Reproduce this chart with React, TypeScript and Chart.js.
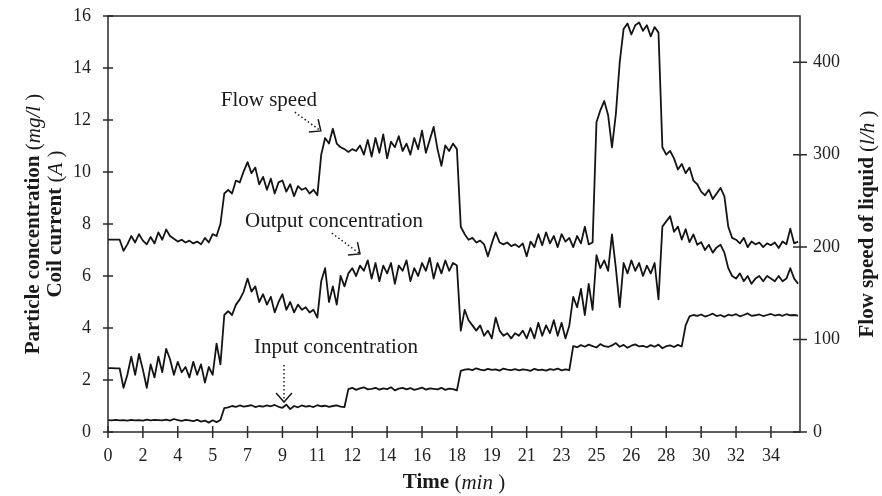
import React, { useEffect, useRef } from "react";
import { Chart, registerables } from "chart.js";

Chart.register(...registerables);

// ---------- data ----------
const SAMPLE_INTERVAL_MIN = 0.2;
const X_MAX_MIN = 35.7;
const X_TICK_STEP = 1.8;
const xTickLabels = ["0", "2", "4", "5", "7", "9", "11", "12", "14", "16", "18", "19", "21", "23", "25", "26", "28", "30", "32", "34"];
const LEFT_MAX = 16;
const LEFT_STEP = 2;
const RIGHT_MAX = 450;
const RIGHT_STEP = 100;

// Flow speed of liquid (l/h), right axis
const flowSpeedLh = [
  208, 208, 208, 208, 196, 203, 212, 205, 214, 207,
  203, 211, 204, 216, 208, 219, 212, 209, 206, 208,
  205, 207, 204, 206, 203, 210, 205, 214, 212, 225,
  258, 262, 258, 272, 270, 282, 292, 280, 286, 268,
  276, 262, 274, 258, 270, 272, 260, 268, 255, 266,
  262, 264, 258, 262, 256, 300, 318, 312, 328, 312,
  308, 306, 303, 306, 304, 310, 300, 316, 298, 318,
  302, 322, 296, 314, 308, 320, 304, 312, 300, 318,
  306, 326, 302, 316, 330, 306, 288, 310, 304, 312,
  306, 222, 214, 208, 210, 205, 207, 203, 190, 204,
  216, 205, 203, 205, 201, 203, 200, 204, 190, 206,
  200, 214, 202, 216, 204, 212, 200, 214, 206, 210,
  200, 212, 204, 222, 203, 205, 335, 348, 358, 343,
  308, 344, 400, 436, 442, 430, 440, 443, 434, 440,
  428, 438, 432, 308, 300, 304, 296, 284, 290, 280,
  286, 272, 268, 260, 256, 262, 252, 258, 264, 255,
  222, 210, 208, 204, 210, 200, 206, 203, 205, 200,
  204, 202, 205, 199, 206, 203, 220, 204, 206,
];

// Output concentration (mg/l), left axis
const outputConcentration = [
  2.46, 2.46, 2.45, 2.45, 1.7, 2.2, 2.9, 2.2, 3.0, 2.4,
  1.7, 2.6, 2.1, 2.9, 2.3, 3.2, 2.8, 2.2, 2.7, 2.3,
  2.5, 2.1, 2.7, 2.2, 2.6, 1.9, 2.5, 2.2, 3.4, 2.6,
  4.5, 4.65, 4.5, 4.9, 5.1, 5.4, 5.9, 5.4, 5.6, 5.0,
  5.3, 4.9, 5.2, 4.6, 5.0, 5.3, 4.7, 5.0, 4.6, 4.9,
  4.7, 4.8, 4.6, 4.7, 4.4, 5.8, 6.3, 5.0, 5.6, 4.9,
  6.0, 5.6, 6.1, 6.3, 6.0, 6.4, 6.2, 6.6, 5.9, 6.5,
  5.8, 6.4, 6.1, 6.5, 5.7, 6.4, 6.2, 6.6, 5.8, 6.3,
  6.0, 6.5, 6.2, 6.7, 5.9, 6.5, 6.1, 6.6, 6.2, 6.5,
  6.4, 3.9, 4.7, 4.3, 4.1, 3.9, 4.1, 3.7, 3.9, 3.6,
  4.4, 3.9, 3.7, 3.8, 3.6, 3.8, 3.7, 3.9, 3.6, 4.0,
  3.6, 4.2, 3.7, 4.1, 3.8, 4.3, 3.7, 4.2, 3.6, 4.1,
  5.2, 4.8, 5.5, 4.5, 5.7, 4.7, 6.8, 6.3, 6.6, 6.2,
  7.6, 6.3, 4.8, 6.5, 6.1, 6.6, 6.2, 6.5, 6.0, 6.4,
  6.1, 6.5, 5.1, 7.9, 8.1, 8.3, 7.7, 7.9, 7.4, 7.8,
  7.3, 7.6, 7.2, 7.3, 7.0, 7.2, 6.9, 7.1, 7.2, 6.9,
  6.3, 6.0, 5.9, 6.1, 5.8, 6.0, 5.7, 5.9, 6.0, 5.8,
  6.0, 5.9, 5.8, 6.0, 5.8, 5.9, 6.3, 5.9, 5.7,
];

// Input concentration (mg/l), left axis
const inputConcentration = [
  0.46, 0.45, 0.47, 0.45, 0.46, 0.44, 0.47, 0.45, 0.46, 0.44,
  0.48, 0.45, 0.47, 0.46, 0.45, 0.48, 0.44, 0.5, 0.46, 0.43,
  0.47, 0.45, 0.42, 0.47, 0.4, 0.44, 0.36, 0.45, 0.38, 0.46,
  0.92, 0.95, 1.0, 0.97, 1.02, 0.98, 1.0, 1.03, 0.96, 1.0,
  0.98, 1.02, 0.99, 1.04, 0.97, 0.93, 1.05, 0.88, 1.0, 0.95,
  1.02, 0.98, 1.0, 0.96, 1.03, 0.99, 1.01, 0.97, 1.0, 1.02,
  0.98, 0.96, 1.65, 1.7, 1.62, 1.68, 1.72, 1.64, 1.66, 1.7,
  1.63, 1.68, 1.65, 1.72, 1.6, 1.67, 1.7, 1.64, 1.69, 1.62,
  1.66, 1.71, 1.63, 1.68, 1.66, 1.64, 1.7, 1.62, 1.67, 1.65,
  1.6, 2.35, 2.4, 2.42, 2.38, 2.45, 2.4, 2.37, 2.43, 2.39,
  2.41, 2.36, 2.44, 2.4, 2.38, 2.42, 2.37, 2.41, 2.39, 2.35,
  2.43, 2.38, 2.4, 2.36, 2.42, 2.39, 2.44, 2.37, 2.41, 2.38,
  3.3, 3.26, 3.34, 3.28, 3.36, 3.3, 3.25, 3.38, 3.3, 3.27,
  3.33, 3.42, 3.28, 3.35, 3.24, 3.32, 3.37, 3.29, 3.31, 3.26,
  3.34, 3.28, 3.36, 3.22, 3.3, 3.33, 3.27, 3.35, 3.29, 4.1,
  4.45, 4.5, 4.47, 4.52, 4.44, 4.49, 4.55, 4.46, 4.5, 4.43,
  4.51, 4.48, 4.53, 4.45, 4.5, 4.56, 4.47, 4.49, 4.52, 4.46,
  4.5, 4.54, 4.48, 4.51, 4.47, 4.53, 4.49, 4.5, 4.48,
];

const timeMin = flowSpeedLh.map((_, i) => Math.round(i * SAMPLE_INTERVAL_MIN * 10) / 10);

// annotation texts and arrows (data coordinates: minutes, left-axis units)
const annotationLabels = [
  { text: "Flow speed", x: 8.3, y: 12.54 },
  { text: "Output concentration", x: 11.66, y: 7.88 },
  { text: "Input concentration", x: 11.76, y: 3.04 },
];
const annotationArrows = [
  { x0: 9.64, y0: 12.3, x1: 10.98, y1: 11.58 },
  { x0: 11.55, y0: 7.65, x1: 13.0, y1: 6.85 },
  { x0: 9.08, y0: 2.58, x1: 9.08, y1: 1.15 },
];

// ---------- styling ----------
const SERIF = "'Liberation Serif', 'Times New Roman', serif";
const INK = "#141414";
const AXIS = "#2a2a2a";

type Part = { t: string; f: string };
const B = `bold 21px ${SERIF}`;
const R = `21px ${SERIF}`;
const I = `italic 21px ${SERIF}`;

function drawRich(ctx: CanvasRenderingContext2D, parts: Part[], x: number, y: number, rot: number) {
  ctx.save();
  ctx.translate(x, y);
  ctx.rotate(rot);
  let total = 0;
  for (const p of parts) {
    ctx.font = p.f;
    total += ctx.measureText(p.t).width;
  }
  let cx = -total / 2;
  ctx.textAlign = "left";
  ctx.textBaseline = "middle";
  ctx.fillStyle = "#1a1a1a";
  for (const p of parts) {
    ctx.font = p.f;
    ctx.fillText(p.t, cx, 0);
    cx += ctx.measureText(p.t).width;
  }
  ctx.restore();
}

const framePlugin = {
  id: "frameTicks",
  afterDraw(chart: any) {
    const { ctx, chartArea: a, scales } = chart;
    ctx.save();
    ctx.strokeStyle = AXIS;
    ctx.lineWidth = 1.5;
    ctx.strokeRect(a.left, a.top, a.right - a.left, a.bottom - a.top);
    ctx.beginPath();
    for (const t of scales.x.ticks) {
      const px = scales.x.getPixelForValue(t.value);
      ctx.moveTo(px, a.bottom - 6);
      ctx.lineTo(px, a.bottom + 6);
    }
    for (const t of scales.y.ticks) {
      const py = scales.y.getPixelForValue(t.value);
      ctx.moveTo(a.left - 5, py);
      ctx.lineTo(a.left + 5, py);
    }
    for (const t of scales.y1.ticks) {
      const py = scales.y1.getPixelForValue(t.value);
      ctx.moveTo(a.right - 7, py);
      ctx.lineTo(a.right + 7, py);
    }
    ctx.stroke();
    ctx.restore();

    // axis titles
    const midY = (a.top + a.bottom) / 2;
    drawRich(ctx, [
      { t: "Particle concentration ", f: B },
      { t: "(", f: R },
      { t: "mg/l", f: I },
      { t: " )", f: R },
    ], 34, midY, -Math.PI / 2);
    drawRich(ctx, [
      { t: "Coil current ", f: B },
      { t: "(", f: R },
      { t: "A", f: I },
      { t: " )", f: R },
    ], 56, midY, -Math.PI / 2);
    drawRich(ctx, [
      { t: "Flow speed of liquid ", f: B },
      { t: "(", f: R },
      { t: "l/h", f: I },
      { t: " )", f: R },
    ], 868, midY, -Math.PI / 2);
    drawRich(ctx, [
      { t: "Time ", f: B },
      { t: "(", f: R },
      { t: "min", f: I },
      { t: " )", f: R },
    ], (a.left + a.right) / 2, 483, 0);
  },
};

const annotationPlugin = {
  id: "curveLabels",
  afterDatasetsDraw(chart: any) {
    const { ctx, scales } = chart;
    const xs = scales.x;
    const ys = scales.y;
    ctx.save();
    ctx.fillStyle = "#1a1a1a";
    ctx.font = `21px ${SERIF}`;
    ctx.textAlign = "center";
    ctx.textBaseline = "alphabetic";
    for (const l of annotationLabels) {
      ctx.fillText(l.text, xs.getPixelForValue(l.x), ys.getPixelForValue(l.y));
    }
    ctx.strokeStyle = "#1a1a1a";
    ctx.lineWidth = 1.5;
    for (const ar of annotationArrows) {
      const x0 = xs.getPixelForValue(ar.x0);
      const y0 = ys.getPixelForValue(ar.y0);
      const x1 = xs.getPixelForValue(ar.x1);
      const y1 = ys.getPixelForValue(ar.y1);
      ctx.setLineDash([1.5, 2.5]);
      ctx.beginPath();
      ctx.moveTo(x0, y0);
      ctx.lineTo(x1, y1);
      ctx.stroke();
      ctx.setLineDash([]);
      const back = Math.atan2(y0 - y1, x0 - x1);
      const len = 12;
      const spread = 0.72;
      ctx.beginPath();
      ctx.moveTo(x1 + len * Math.cos(back - spread), y1 + len * Math.sin(back - spread));
      ctx.lineTo(x1, y1);
      ctx.lineTo(x1 + len * Math.cos(back + spread), y1 + len * Math.sin(back + spread));
      ctx.stroke();
    }
    ctx.restore();
  },
};

const noPad = (s: any) => {
  s.paddingTop = 0;
  s.paddingBottom = 0;
  s.paddingLeft = 0;
  s.paddingRight = 0;
};

export default function App() {
  const ref = useRef<HTMLCanvasElement | null>(null);

  useEffect(() => {
    if (!ref.current) return;
    const line = (vals: number[], axis: string) => ({
      data: timeMin.map((t, i) => ({ x: t, y: vals[i] })),
      yAxisID: axis,
      borderColor: INK,
      borderWidth: 1.8,
      borderJoinStyle: "round",
      pointRadius: 0,
      tension: 0,
      fill: false,
    });
    const tickFont = { family: SERIF, size: 18 };
    const chart = new Chart(ref.current, {
      type: "line",
      data: {
        datasets: [
          { label: "Flow speed", ...line(flowSpeedLh, "y1") },
          { label: "Output concentration", ...line(outputConcentration, "y") },
          { label: "Input concentration", ...line(inputConcentration, "y") },
        ],
      },
      options: {
        animation: false,
        responsive: false,
        devicePixelRatio: 1,
        layout: { padding: { top: 16, left: 0, right: 0, bottom: 0 } },
        plugins: { legend: { display: false }, tooltip: { enabled: false } },
        scales: {
          x: {
            type: "linear",
            min: 0,
            max: X_MAX_MIN,
            grid: { display: false, drawTicks: false, tickLength: 0 },
            border: { display: false },
            ticks: {
              stepSize: X_TICK_STEP,
              includeBounds: false,
              autoSkip: false,
              maxRotation: 0,
              padding: 13,
              color: "#222",
              font: tickFont,
              callback: (_v: any, i: number) => xTickLabels[i] ?? "",
            },
            afterFit: (s: any) => { s.height = 64; noPad(s); },
          },
          y: {
            type: "linear",
            position: "left",
            min: 0,
            max: LEFT_MAX,
            grid: { display: false, drawTicks: false, tickLength: 0 },
            border: { display: false },
            ticks: { stepSize: LEFT_STEP, padding: 17, color: "#222", font: tickFont },
            afterFit: (s: any) => { s.width = 108; noPad(s); },
          },
          y1: {
            type: "linear",
            position: "right",
            min: 0,
            max: RIGHT_MAX,
            grid: { display: false, drawTicks: false, tickLength: 0 },
            border: { display: false },
            ticks: { stepSize: RIGHT_STEP, includeBounds: false, padding: 13, color: "#222", font: tickFont },
            afterFit: (s: any) => { s.width = 82; noPad(s); },
          },
        },
      },
      plugins: [framePlugin, annotationPlugin],
    } as any);
    return () => chart.destroy();
  }, []);

  return (
    <div style={{ position: "absolute", left: 0, top: 0, width: 882, height: 496, background: "#fff" }}>
      <canvas ref={ref} width={882} height={496} style={{ display: "block" }} />
    </div>
  );
}
